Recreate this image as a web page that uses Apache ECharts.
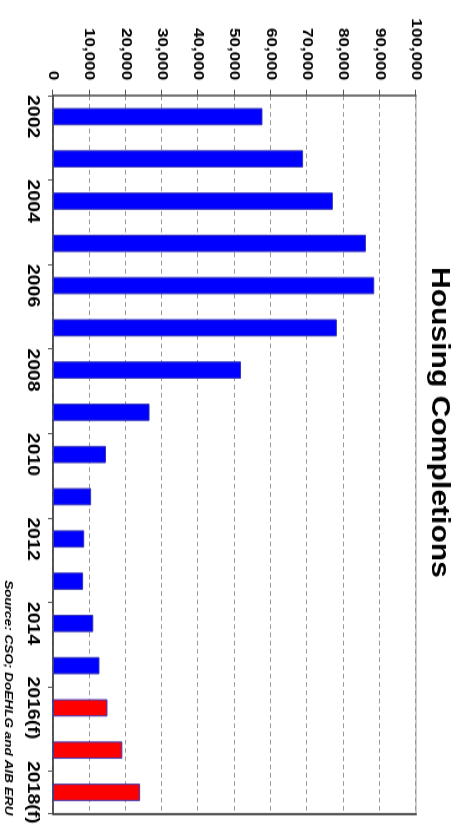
<!DOCTYPE html>
<html>
<head>
<meta charset="utf-8">
<script src="https://cdn.jsdelivr.net/npm/echarts@6/dist/echarts.min.js"></script>
<style>
  html, body { margin: 0; padding: 0; width: 465px; height: 827px; overflow: hidden; background: #fff; }
  /* The chart is laid out landscape and turned a quarter turn clockwise,
     with a slight horizontal stretch of the landscape drawing. */
  #chart {
    position: absolute; left: 0; top: 0;
    width: 701px; height: 465px;
    transform-origin: 0 0;
    transform: translate(465px, 0) rotate(90deg) scale(1.18, 1);
  }
</style>
</head>
<body>
<div id="chart"></div>
<script>
// Years on the category axis; "(f)" marks forecast years
const years = ['2002', '2003', '2004', '2005', '2006', '2007', '2008', '2009',
               '2010', '2011', '2012', '2013', '2014', '2015',
               '2016(f)', '2017(f)', '2018(f)'];
// Completed dwellings per year (outturn)
const completions = [57700, 68900, 77100, 86200, 88500, 78200, 51800, 26600,
                     14600, 10500, 8600, 8300, 11100, 12800];
// Forecast completions
const forecast = [15000, 19100, 24000];
// Value axis ticks
const valueTicks = [0, 10000, 20000, 30000, 40000, 50000, 60000, 70000, 80000, 90000, 100000];

const FONT = '"Liberation Sans", Arial, sans-serif';

const barData = years.map(function (y, i) {
  const isForecast = i >= completions.length;
  return {
    value: isForecast ? forecast[i - completions.length] : completions[i],
    itemStyle: { color: isForecast ? '#ff0000' : '#0000ff' }
  };
});

const chart = echarts.init(document.getElementById('chart'), null, { renderer: 'canvas' });
chart.setOption({
  animation: false,
  backgroundColor: '#ffffff',
  title: [{
    text: 'Housing Completions',
    left: 358,
    textAlign: 'center',
    top: 13,
    padding: 0,
    textStyle: { fontFamily: FONT, fontWeight: 'bold', fontSize: 25.5, color: '#000' }
  }, {
    text: 'Source: CSO; DoEHLG and AIB ERU',
    right: 10,
    bottom: 2,
    padding: 0,
    textStyle: { fontFamily: FONT, fontWeight: 'bold', fontStyle: 'italic', fontSize: 11.5, color: '#000' }
  }],
  grid: {
    left: 81, right: 9, top: 49, bottom: 53,
    show: true, borderColor: '#9a9a9a', borderWidth: 1
  },
  xAxis: {
    type: 'category',
    data: years,
    boundaryGap: true,
    axisLine: { lineStyle: { color: '#333', width: 1.5 } },
    axisTick: { show: true, interval: 1, length: 5, lineStyle: { color: '#555' } },
    axisLabel: {
      interval: 1, margin: 12,
      fontFamily: FONT, fontWeight: 'bold', fontSize: 16.5, color: '#000'
    }
  },
  yAxis: [{
    type: 'value',
    min: valueTicks[0],
    max: valueTicks[valueTicks.length - 1],
    interval: valueTicks[1] - valueTicks[0],
    axisLine: { show: true, lineStyle: { color: '#555', width: 1.5 } },
    axisTick: { show: true, length: 5, lineStyle: { color: '#555' } },
    axisLabel: {
      margin: 13,
      fontFamily: FONT, fontWeight: 'bold', fontSize: 14.5, color: '#000',
      formatter: function (v) { return v.toLocaleString('en-US'); }
    },
    splitLine: { show: true, lineStyle: { color: '#999', type: [4, 3], width: 1 } }
  }, {
    type: 'value',
    position: 'right',
    min: 0, max: 100000,
    axisLine: { show: true, lineStyle: { color: '#555', width: 2 } },
    axisTick: { show: false },
    axisLabel: { show: false },
    splitLine: { show: false }
  }],
  series: [{
    type: 'bar',
    data: barData,
    barWidth: '41%',
    itemStyle: { borderColor: '#3535b5', borderWidth: 1 }
  }]
});
</script>
</body>
</html>
